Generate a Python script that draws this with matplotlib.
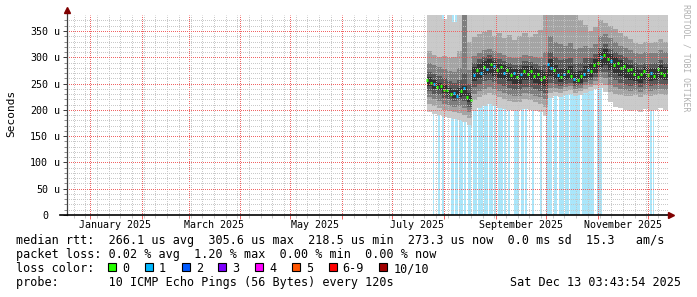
import numpy as np
import matplotlib
matplotlib.use('Agg')
import matplotlib.pyplot as plt
import matplotlib.dates as mdates
from matplotlib.ticker import NullFormatter
from matplotlib.patches import Rectangle
from matplotlib.lines import Line2D
from datetime import datetime

plt.rcParams['font.family'] = 'DejaVu Sans Mono'
plt.rcParams['lines.scale_dashes'] = False

W, H = 697, 297

t_start = datetime(2024, 12, 18, 3, 43, 54)
t_end = datetime(2025, 12, 13, 3, 43, 54)
data_start = datetime(2025, 7, 22)

# smoke: 3-day bins from data_start, sorted ping rtt boundaries in microseconds
p1 = [196, 192, 190, 186, 184, 182, 180, 176, 172, 198, 204, 208, 212, 208, 204, 202,
      200, 198, 200, 202, 200, 198, 196, 188, 222, 226, 224, 228, 230, 226, 228, 232,
      236, 240, 242, 234, 214, 206, 204, 200, 198, 200, 196, 202, 198, 200, 204, 200]
p2 = [212, 208, 204, 200, 197, 195, 194, 190, 184, 218, 224, 228, 232, 228, 224, 221,
      217, 214, 214, 220, 219, 215, 212, 206, 232, 234, 232, 236, 238, 233, 235, 240,
      244, 248, 252, 248, 234, 230, 228, 226, 226, 228, 224, 228, 226, 228, 230, 228]
p3 = [224, 220, 216, 212, 208, 206, 207, 204, 196, 230, 236, 240, 244, 240, 236, 233,
      229, 226, 226, 232, 231, 227, 224, 220, 242, 242, 240, 243, 245, 240, 241, 247,
      250, 255, 262, 260, 248, 244, 240, 238, 236, 238, 234, 238, 236, 238, 240, 238]
p4 = [236, 231, 228, 223, 219, 216, 218, 216, 206, 243, 249, 254, 257, 253, 249, 246,
      242, 238, 238, 244, 244, 240, 236, 232, 252, 249, 246, 249, 251, 246, 247, 253,
      256, 262, 272, 272, 262, 256, 252, 248, 246, 247, 243, 247, 245, 247, 250, 247]
p5 = [246, 240, 237, 232, 227, 223, 225, 226, 214, 255, 261, 266, 269, 265, 261, 258,
      254, 250, 250, 256, 256, 252, 248, 245, 264, 258, 253, 256, 258, 251, 252, 260,
      263, 270, 282, 286, 276, 270, 264, 260, 257, 255, 251, 256, 254, 256, 259, 256]
p6 = [262, 256, 252, 247, 242, 238, 241, 246, 232, 282, 288, 293, 296, 292, 288, 285,
      281, 277, 277, 283, 283, 279, 275, 272, 296, 286, 278, 280, 283, 272, 273, 283,
      288, 296, 310, 316, 306, 300, 294, 290, 286, 281, 276, 281, 279, 280, 285, 281]
p7 = [272, 268, 264, 260, 255, 252, 256, 270, 250, 290, 296, 301, 304, 300, 296, 293,
      289, 285, 286, 292, 291, 288, 284, 285, 310, 300, 294, 296, 298, 288, 290, 298,
      298, 306, 320, 326, 316, 310, 304, 300, 295, 290, 286, 290, 288, 290, 294, 290]
p8 = [290, 286, 282, 278, 274, 272, 280, 420, 276, 302, 308, 314, 316, 312, 308, 305,
      301, 298, 300, 304, 303, 301, 298, 310, 340, 330, 325, 322, 328, 316, 318, 322,
      318, 326, 340, 344, 336, 330, 322, 318, 314, 309, 306, 310, 308, 309, 313, 310]
p9 = [312, 305, 300, 302, 298, 300, 312, 420, 330, 338, 345, 348, 352, 340, 346, 336,
      342, 332, 340, 346, 338, 344, 352, 400, 420, 395, 420, 380, 405, 385, 370, 362,
      350, 358, 370, 366, 360, 354, 346, 340, 334, 328, 325, 330, 328, 330, 334, 330]
p10 = [420, 420, 420, 372, 420, 368, 420, 420, 420, 420, 420, 420, 420, 420, 420, 420,
       420, 420, 420, 420, 420, 420, 420, 420, 420, 420, 420, 420, 420, 420, 420, 420,
       420, 420, 420, 420, 420, 420, 420, 420, 420, 420, 420, 420, 420, 420, 420, 420]

# median rtt every 2 days (microseconds) and its loss count
med = [257, 251, 250, 243, 246, 238, 237, 231, 232, 227,
       236, 241, 225, 219, 266, 275, 271, 282, 278, 287,
       283, 276, 281, 270, 275, 266, 270, 262, 268, 274,
       269, 273, 264, 268, 259, 262, 288, 279, 275, 266,
       262, 268, 273, 264, 259, 256, 265, 268, 276, 274,
       285, 290, 300, 305, 296, 293, 286, 289, 280, 283,
       275, 278, 268, 263, 268, 273, 266, 270, 265, 277,
       271, 266, 273]
med_loss = [0, 0, 1, 0, 0, 0, 0, 0, 1, 1,
            0, 1, 0, 0, 1, 0, 1, 0, 1, 0,
            1, 0, 0, 1, 0, 0, 1, 0, 1, 0,
            0, 0, 0, 0, 0, 0, 1, 1, 0, 1,
            0, 1, 0, 0, 1, 0, 0, 1, 1, 0,
            0, 0, 1, 0, 0, 1, 0, 0, 0, 0,
            0, 0, 0, 0, 0, 0, 0, 1, 0, 0,
            0, 0, 0]

# packet loss periods: start (days after data_start) and length (days)
loss_start = [3.6, 6.6, 9.0, 14.4, 16.8, 19.2, 22.2, 24.6, 27.6, 30.6, 34.2, 37.2,
              40.2, 42.6, 46.2, 48.6, 52.2, 56.4, 58.2, 62.4, 67.2, 70.8, 75.6, 78.6,
              82.2, 85.2, 92.4, 101.4, 133.2, 135.0]
loss_len = [0.6, 1.2, 1.2, 1.8, 1.8, 2.4, 1.2, 1.8, 2.4, 3.0, 2.4, 2.4,
            1.2, 3.0, 1.2, 1.2, 3.0, 1.2, 1.2, 1.2, 1.2, 3.6, 1.8, 3.0,
            2.4, 6.0, 7.2, 3.0, 1.2, 0.6]

month_labels = ['January 2025', 'March 2025', 'May 2025', 'July 2025',
                'September 2025', 'November 2025']
label_dates = [datetime(2025, 1, 16), datetime(2025, 3, 16), datetime(2025, 5, 16),
               datetime(2025, 7, 16), datetime(2025, 9, 16), datetime(2025, 11, 16)]

loss_names = ['0', '1', '2', '3', '4', '5', '6-9', '10/10']
loss_colors = ['#26ff00', '#00b8ff', '#0059ff', '#7e00ff', '#ff00ff', '#ff5500',
               '#ff0000', '#a10000']
smoke_colors = ['#cacaca', '#a4a4a4', '#7e7e7e', '#585858', '#323232']

fig = plt.figure(figsize=(W / 100, H / 100), dpi=100)
fig.patch.set_facecolor('white')
# plot area: x 67..668, y 15..215 (pixels from top)
ax = fig.add_axes([67 / W, 82 / H, 601 / W, 200 / H])
ax.set_xlim(t_start, t_end)
ax.set_ylim(0, 350 * 200 / 184)
for s in ax.spines.values():
    s.set_visible(False)

t0 = mdates.date2num(data_start)

# loss background bars
for st, ln in zip(loss_start, loss_len):
    ax.axvspan(t0 + st, t0 + st + ln, color='#aae6fa', lw=0, zorder=0.6)

# smoke
edges = t0 + 3 * np.arange(len(p1) + 1)
lows = [p1, p2, p3, p4, p5]
highs = [p10, p9, p8, p7, p6]
for lo, hi, c in zip(lows, highs, smoke_colors):
    ax.stairs(hi, edges, baseline=lo, fill=True, color=c, lw=0, zorder=1)

# median markers
mx = t0 + 2 * np.arange(len(med))
mcol = [loss_colors[l] for l in med_loss]
ax.hlines(med, mx - 0.6, mx + 0.6, colors=mcol, linewidth=2.2, zorder=2)

# grid: 1px on / 1px off, offset half a pixel so dots sit on whole pixels
dots = (0.36, (0.72, 0.72))
ax.set_yticks(np.arange(0, 351, 50))
ax.set_yticks([v for v in range(0, 371, 10) if v % 50], minor=True)
ax.set_yticklabels([str(v) for v in np.arange(0, 351, 50)], fontsize=7.2)
ax.xaxis.set_major_locator(mdates.MonthLocator())
ax.xaxis.set_minor_locator(mdates.RRuleLocator(
    mdates.rrulewrapper(mdates.DAILY, byweekday=mdates.SU, bymonthday=list(range(2, 32)))))
ax.xaxis.set_major_formatter(NullFormatter())
ax.xaxis.set_minor_formatter(NullFormatter())
ax.grid(which='minor', color='#c4c4c4', alpha=0.9, linestyle=dots, linewidth=0.72)
ax.grid(which='major', color='#f06464', alpha=1.0, linestyle=dots, linewidth=0.72)
ax.set_axisbelow(False)
ax.tick_params(axis='y', which='major', length=3, width=0.72, color='#404040', pad=10.6)
ax.tick_params(axis='y', which='minor', length=2, width=0.72, color='#909090')
ax.tick_params(axis='x', which='major', length=3, width=0.72, color='#f06464')
ax.tick_params(axis='x', which='minor', length=2, width=0.72, color='#c8c8c8')

for v in np.arange(50, 351, 50):
    ax.text((54 - 67) / 601, v, 'u', transform=ax.get_yaxis_transform(),
            ha='left', va='center_baseline', fontsize=7.2)

for d, lab in zip(label_dates, month_labels):
    ax.text(d, -10.5 / 200, lab, transform=ax.get_xaxis_transform(),
            ha='center', va='center', fontsize=7.2)

# axes with arrows
ax.add_line(Line2D([0, 0], [0, 204 / 200], transform=ax.transAxes,
                   color='#404040', lw=0.9, clip_on=False, zorder=3))
ax.plot([0], [205 / 200], marker='^', markersize=4.5, color='#800000',
        transform=ax.transAxes, clip_on=False, zorder=4)
ax.add_line(Line2D([(60 - 67) / 601, (670 - 67) / 601], [0, 0], transform=ax.transAxes,
                   color='black', lw=1.2, clip_on=False, zorder=3))
ax.plot([(671 - 67) / 601], [0], marker='>', markersize=4.5, color='#800000',
        transform=ax.transAxes, clip_on=False, zorder=4)

fig.text(11 / W, 1 - 113.5 / H, 'Seconds', rotation=90, ha='center', va='center', fontsize=8)
fig.text(686 / W, 1 - 4 / H, 'RRDTOOL / TOBI OETIKER', rotation=270, ha='center', va='top',
         fontsize=5.9, color='#b0b0b0')

# legend
fs = 8.5
cw = fs / 72 * 100 * 0.602
lines = ['median rtt:  266.1 us avg  305.6 us max  218.5 us min  273.3 us now  0.0 ms sd  15.3   am/s',
         'packet loss: 0.02 % avg  1.20 % max  0.00 % min  0.00 % now',
         'loss color:',
         'probe:       10 ICMP Echo Pings (56 Bytes) every 120s']
baselines = [244.4, 258.2, 272.0, 285.8]
for txt, b in zip(lines, baselines):
    fig.text(16 / W, 1 - b / H, txt, ha='left', va='baseline', fontsize=fs)
fig.text(681 / W, 1 - baselines[3] / H, 'Sat Dec 13 03:43:54 2025', ha='right',
         va='baseline', fontsize=fs)

bx = 108.3
for name, c in zip(loss_names, loss_colors):
    fig.add_artist(Rectangle((bx / W, 1 - 270.5 / H), 8 / W, 8 / H, facecolor=c,
                             edgecolor='black', linewidth=0.8))
    lx = bx + 14
    fig.text(lx / W, 1 - baselines[2] / H, name, ha='left', va='baseline', fontsize=fs)
    bx = lx + len(name) * cw + 15.6

fig.savefig('out.png', dpi=100, facecolor='white')
